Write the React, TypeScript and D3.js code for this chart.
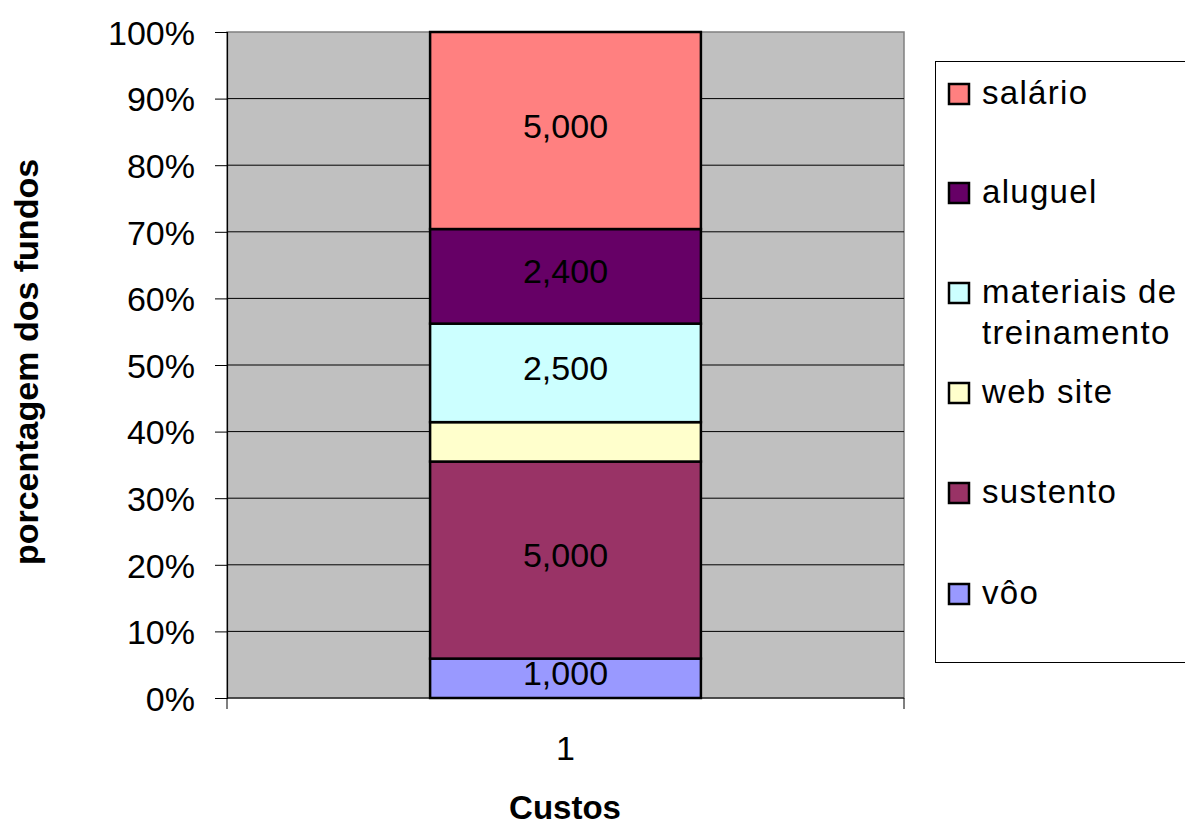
import * as d3 from 'd3'
import { useEffect, useRef } from 'react'

const categories = ['1']
const seriesNames = ['vôo', 'sustento', 'web site', 'materiais de treinamento', 'aluguel', 'salário']
const seriesValues = [1000, 5000, 1000, 2500, 2400, 5000]
const seriesColors = ['#9999FF', '#993366', '#FFFFCC', '#CCFFFF', '#660066', '#FF8080']
const showLabel = [true, true, false, true, true, true]
const tickValues = [0, 0.1, 0.2, 0.3, 0.4, 0.5, 0.6, 0.7, 0.8, 0.9, 1]
// legend lines (top to bottom), the 4th entry wraps
const legendLines = [['salário'], ['aluguel'], ['materiais de', 'treinamento'], ['web site'], ['sustento'], ['vôo']]

const App = () => {
  const ref = useRef<SVGSVGElement | null>(null)

  useEffect(() => {
    if (!ref.current) return
    const svg = d3.select(ref.current)
    svg.selectAll('*').remove()

    const font = 'Liberation Sans, Arial, sans-serif'
    const left = 227
    const right = 904
    const top = 32
    const bottom = 698

    const x = d3.scaleBand().domain(categories).range([left, right]).paddingInner(0.6).paddingOuter(0.3)
    const y = d3.scaleLinear().domain([0, 1]).range([bottom, top])

    const total = d3.sum(seriesValues)
    const row: any = { cat: categories[0] }
    seriesNames.forEach((n, i) => (row[n] = seriesValues[i] / total))
    const stacked = d3.stack().keys(seriesNames)([row])

    // plot area
    svg.append('rect').attr('x', left).attr('y', top).attr('width', right - left).attr('height', bottom - top)
      .attr('fill', '#C0C0C0').attr('stroke', '#808080').attr('stroke-width', 1.5)

    // gridlines
    svg.append('g').selectAll('line').data(tickValues.slice(1, -1)).enter().append('line')
      .attr('x1', left).attr('x2', right).attr('y1', (d) => y(d)).attr('y2', (d) => y(d))
      .attr('stroke', '#000').attr('stroke-width', 1)

    // Y axis
    const yAxis = svg.append('g').attr('transform', `translate(${left},0)`)
      .call(d3.axisLeft(y).tickValues(tickValues).tickSize(12).tickPadding(20).tickFormat(d3.format('.0%')))
    yAxis.select('.domain').attr('stroke', '#000').attr('stroke-width', 1.2)
    yAxis.selectAll('.tick line').attr('stroke', '#000')
    yAxis.selectAll('text').attr('font-family', font).attr('font-size', 34).attr('fill', '#000').attr('dy', '0.36em')

    // X axis
    svg.append('line').attr('x1', left).attr('x2', right).attr('y1', bottom).attr('y2', bottom)
      .attr('stroke', '#000').attr('stroke-width', 1)
    svg.selectAll('.xtick').data([left, right]).enter().append('line')
      .attr('x1', (d) => d).attr('x2', (d) => d).attr('y1', bottom).attr('y2', bottom + 11)
      .attr('stroke', '#000')
    svg.selectAll('.xlab').data(categories).enter().append('text')
      .attr('x', (d) => (x(d) as number) + x.bandwidth() / 2).attr('y', 760)
      .attr('text-anchor', 'middle').attr('font-family', font).attr('font-size', 34).text((d) => d)

    // bars
    stacked.forEach((s, i) => {
      svg.append('g').selectAll('rect').data(s).enter().append('rect')
        .attr('x', (d: any) => x(d.data.cat) as number)
        .attr('width', x.bandwidth())
        .attr('y', (d) => y(d[1]))
        .attr('height', (d) => y(d[0]) - y(d[1]))
        .attr('fill', seriesColors[i])
        .attr('stroke', '#000').attr('stroke-width', 2.5)
      if (showLabel[i]) {
        svg.append('g').selectAll('text').data(s).enter().append('text')
          .attr('x', (d: any) => (x(d.data.cat) as number) + x.bandwidth() / 2)
          .attr('y', (d) => (y(d[0]) + y(d[1])) / 2 + 7)
          .attr('text-anchor', 'middle').attr('font-family', font).attr('font-size', 34).attr('fill', '#000')
          .text(d3.format(',')(seriesValues[i]))
      }
    })

    // axis titles
    svg.append('text').attr('x', 565).attr('y', 819).attr('text-anchor', 'middle')
      .attr('font-family', font).attr('font-size', 33).attr('font-weight', 'bold').text('Custos')
    svg.append('text').attr('transform', 'translate(38,362) rotate(-90)').attr('text-anchor', 'middle')
      .attr('font-family', font).attr('font-size', 34).attr('font-weight', 'bold').text('porcentagem dos fundos')

    // legend
    svg.append('rect').attr('x', 935.5).attr('y', 61.5).attr('width', 260).attr('height', 601)
      .attr('fill', '#fff').attr('stroke', '#000').attr('stroke-width', 1)
    const legendY = [93, 192, 292, 392, 492, 593]
    const legendColors = seriesColors.slice().reverse()
    legendLines.forEach((lines, i) => {
      svg.append('rect').attr('x', 949).attr('y', legendY[i] - 9).attr('width', 20).attr('height', 20)
        .attr('fill', legendColors[i]).attr('stroke', '#000').attr('stroke-width', 2.5)
      lines.forEach((t, j) => {
        svg.append('text').attr('x', 982).attr('y', legendY[i] + 11 + j * 41)
          .attr('font-family', font).attr('font-size', 33).attr('letter-spacing', 1.3)
          .attr('fill', '#000').text(t)
      })
    })
  }, [])

  return (
    <svg ref={ref} width={1185} height={827} style={{ display: 'block', position: 'absolute', left: 0, top: 0 }} />
  )
}

export default App
